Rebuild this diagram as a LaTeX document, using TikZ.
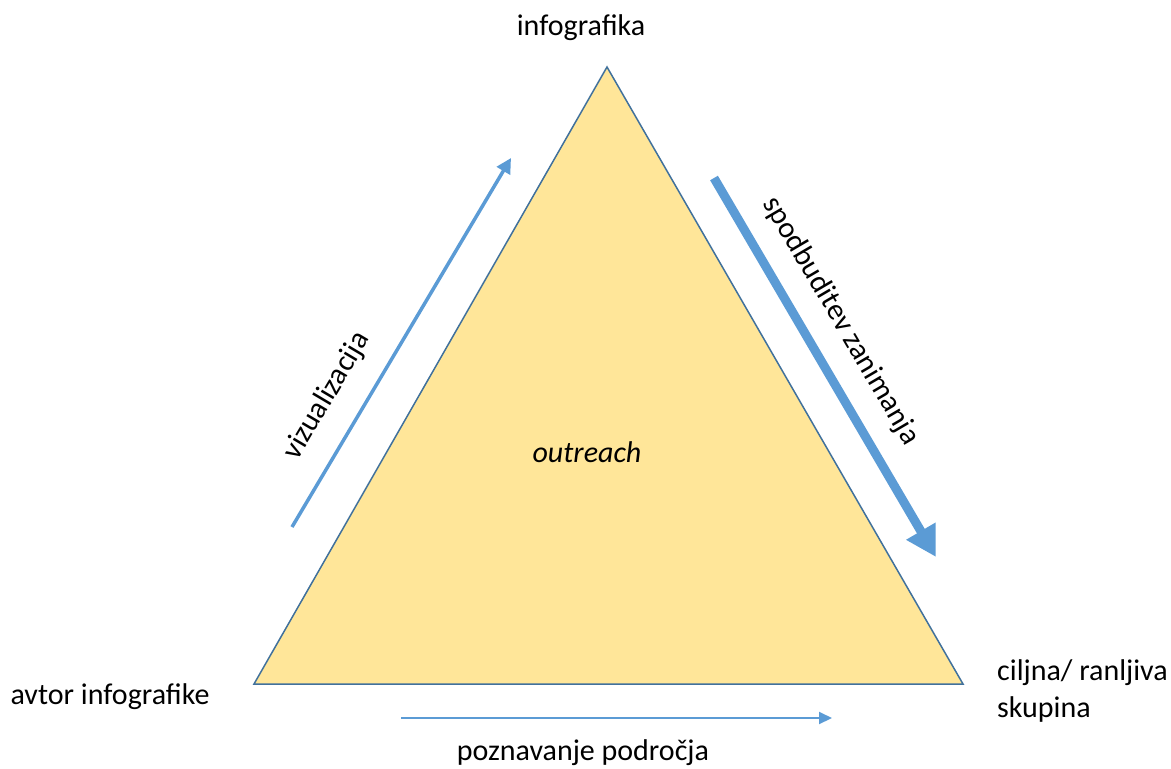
\documentclass[tikz,border=0pt]{standalone}
\usepackage{fontspec}
\setmainfont{Carlito}
\usetikzlibrary{arrows.meta}
\definecolor{triFill}{HTML}{FFE699}
\definecolor{triLine}{HTML}{41719C}
\definecolor{arrBlue}{HTML}{5B9BD5}
\tikzset{
  lbl/.style={font=\fontsize{30}{36}\selectfont, text=black, inner sep=0pt},
  thinarrow/.style={draw=arrBlue, line width=2pt, -{Triangle[length=13pt,width=12pt]}},
  midarrow/.style={draw=arrBlue, line width=3.5pt, -{Triangle[length=15pt,width=15pt]}},
  fatarrow/.style={draw=arrBlue, line width=9pt, -{Triangle[length=30pt,width=32pt]}, shorten >=0pt}
}
\begin{document}
\begin{tikzpicture}[x=1pt,y=-1pt]
\useasboundingbox (0,0) rectangle (1171,769);
\coordinate (T) at (607,67);
\coordinate (L) at (254,684);
\coordinate (R) at (963,684);
\fill[triFill] (T) -- (L) -- (R) -- cycle;
\draw[triLine, line width=1.5pt, line join=miter] (T) -- (L) -- (R) -- cycle;

\coordinate (va) at (292,527);
\coordinate (vb) at (511,158);
\draw[midarrow] (va) -- (vb);

\coordinate (sa) at (714,178);
\coordinate (sb) at (936,557);
\draw[fatarrow] (sa) -- (sb);

\coordinate (pa) at (401,718);
\coordinate (pb) at (832,718);
\draw[thinarrow] (pa) -- (pb);

\node[lbl] (ninfo) at (581,28) {infografika};
\node[lbl] (navtor) at (110,697) {avtor infografike};
\node[lbl, anchor=west, align=left] (nciljna) at (997,691) {ciljna/ ranljiva\\[1pt]skupina};
\node[lbl] (npozn) at (583,753) {poznavanje področja};
\node[lbl, font=\fontsize{30}{36}\selectfont\itshape] (nout) at (587,452) {outreach};
\node[lbl, rotate=59.3] (nviz) at (327,396) {vizualizacija};
\node[lbl, rotate=-59.6] (nspod) at (841,321) {spodbuditev zanimanja};
\end{tikzpicture}
\end{document}
